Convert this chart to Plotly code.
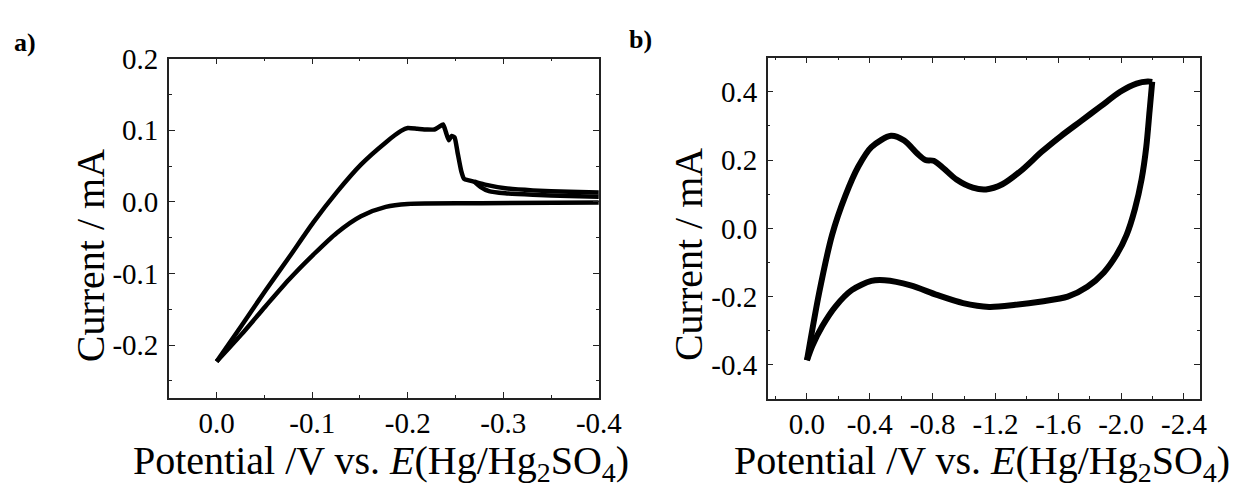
import plotly.graph_objects as go

# ---------------- Panel a data (potential V, current mA) ----------------
pot_a_fwd = [0.0, -0.026, -0.051, -0.076, -0.101, -0.126, -0.151, -0.177, -0.193, -0.200,
             -0.210, -0.220, -0.228, -0.233, -0.237, -0.240, -0.243, -0.246, -0.249,
             -0.252, -0.256, -0.259, -0.264, -0.270]
cur_a_fwd = [-0.223, -0.173, -0.124, -0.077, -0.029, 0.014, 0.052, 0.083, 0.099, 0.103,
             0.102, 0.101, 0.101, 0.105, 0.108, 0.097, 0.086, 0.092, 0.090,
             0.070, 0.043, 0.032, 0.030, 0.028]
pot_a_tail1 = [-0.270, -0.281, -0.302, -0.331, -0.369, -0.400]
cur_a_tail1 = [0.028, 0.024, 0.019, 0.016, 0.014, 0.013]
pot_a_tail2 = [-0.270, -0.276, -0.285, -0.302, -0.331, -0.369, -0.400]
cur_a_tail2 = [0.028, 0.021, 0.015, 0.012, 0.010, 0.008, 0.007]
pot_a_rev = [-0.400, -0.277, -0.200, -0.177, -0.151, -0.126, -0.101, -0.076, -0.051, -0.026, 0.0]
cur_a_rev = [-0.001, -0.002, -0.003, -0.007, -0.020, -0.043, -0.074, -0.108, -0.146, -0.185, -0.223]

# ---------------- Panel b data (anodic sweep 0 -> -2.2 V, then return) ----------------
pot_b_fwd = [0.0, -0.077, -0.160, -0.244, -0.327, -0.410, -0.535, -0.619, -0.702, -0.754,
             -0.806, -0.869, -0.952, -1.056, -1.140, -1.244, -1.369, -1.494, -1.619, -1.744,
             -1.869, -1.994, -2.098, -2.170, -2.198]
cur_b_fwd = [-0.386, -0.190, -0.019, 0.095, 0.181, 0.238, 0.271, 0.257, 0.219, 0.200,
             0.198, 0.176, 0.143, 0.119, 0.114, 0.129, 0.171, 0.224, 0.271, 0.314,
             0.357, 0.400, 0.424, 0.430, 0.429]
pot_b_rev = [-2.198, -2.181, -2.160, -2.130, -2.088, -2.035, -1.973, -1.890, -1.785, -1.660,
             -1.494, -1.327, -1.160, -0.994, -0.827, -0.660, -0.494, -0.410, -0.285, -0.181,
             -0.098, -0.035, 0.0]
cur_b_rev = [0.429, 0.343, 0.238, 0.143, 0.057, -0.019, -0.076, -0.129, -0.171, -0.200,
             -0.214, -0.224, -0.230, -0.219, -0.195, -0.167, -0.152, -0.154, -0.181, -0.229,
             -0.286, -0.343, -0.386]

# ---------------- Tick labels ----------------
xa_ticks = [0.0, -0.1, -0.2, -0.3, -0.4]
xa_text = ["0.0", "-0.1", "-0.2", "-0.3", "-0.4"]
ya_ticks = [0.2, 0.1, 0.0, -0.1, -0.2]
ya_text = ["0.2", "0.1", "0.0", "-0.1", "-0.2"]
xb_ticks = [0.0, -0.4, -0.8, -1.2, -1.6, -2.0, -2.4]
xb_text = ["0.0", "-0.4", "-0.8", "-1.2", "-1.6", "-2.0", "-2.4"]
yb_ticks = [0.4, 0.2, 0.0, -0.2, -0.4]
yb_text = ["0.4", "0.2", "0.0", "-0.2", "-0.4"]

FONT = "Liberation Serif"
W, H = 1258, 491

fig = go.Figure()
line_a = dict(color="black", width=4.5)
for xs, ys, sm in [(pot_a_fwd + pot_a_tail1[1:], cur_a_fwd + cur_a_tail1[1:], 0.5),
                   (pot_a_tail2, cur_a_tail2, 0.5),
                   (pot_a_rev, cur_a_rev, 0.8)]:
    fig.add_trace(go.Scatter(x=xs, y=ys, mode="lines",
                             line=dict(line_a, shape="spline", smoothing=sm),
                             xaxis="x", yaxis="y", showlegend=False, hoverinfo="skip"))
line_b = dict(color="black", width=6)
for xs, ys in [(pot_b_fwd, cur_b_fwd), (pot_b_rev, cur_b_rev)]:
    fig.add_trace(go.Scatter(x=xs, y=ys, mode="lines",
                             line=dict(line_b, shape="spline", smoothing=0.8),
                             xaxis="x2", yaxis="y2", showlegend=False, hoverinfo="skip"))

def px_x(p):
    return p / W

def px_y(p):
    return 1 - p / H

axis_common = dict(showline=True, linecolor="#222222", linewidth=1.5, mirror="allticks",
                   ticks="inside", ticklen=6, tickwidth=1.2, tickcolor="#222222",
                   showgrid=False, zeroline=False,
                   tickfont=dict(family=FONT, size=29, color="black"))

fig.update_layout(
    width=W, height=H, margin=dict(l=0, r=0, t=0, b=0),
    paper_bgcolor="white", plot_bgcolor="white",
    font=dict(family=FONT, color="black"),
    xaxis=dict(axis_common, domain=[px_x(172), px_x(610)], range=[0.05, -0.4],
               tickvals=xa_ticks, ticktext=xa_text, anchor="y", ticklabelstandoff=-2,
               minor=dict(ticks="inside", ticklen=3, tickcolor="#222222",
                          tickvals=[-0.05, -0.15, -0.25, -0.35])),
    yaxis=dict(axis_common, domain=[px_y(395), px_y(44)], range=[-0.274, 0.2],
               tickvals=ya_ticks, ticktext=ya_text, anchor="x", ticklabelstandoff=3,
               minor=dict(ticks="inside", ticklen=3, tickcolor="#222222",
                          tickvals=[0.15, 0.05, -0.05, -0.15, -0.25])),
    xaxis2=dict(axis_common, domain=[px_x(782), px_x(1222)], range=[0.25, -2.5],
                tickvals=xb_ticks, ticktext=xb_text, anchor="y2", ticklabelstandoff=-2,
                minor=dict(ticks="inside", ticklen=3, tickcolor="#222222",
                           tickvals=[0.2, -0.2, -0.6, -1.0, -1.4, -1.8, -2.2])),
    yaxis2=dict(axis_common, domain=[px_y(396), px_y(43)], range=[-0.5, 0.5],
                tickvals=yb_ticks, ticktext=yb_text, anchor="x2", ticklabelstandoff=3,
                minor=dict(ticks="inside", ticklen=3, tickcolor="#222222",
                           tickvals=[0.3, 0.1, -0.1, -0.3])),
)

xtitle = "Potential /V vs. <i>E</i>(Hg/Hg<sub>2</sub>SO<sub>4</sub>)"
ann_font = dict(family=FONT, size=40, color="black")
fig.add_annotation(x=px_x(388), y=px_y(462), xref="paper", yref="paper", text=xtitle,
                   showarrow=False, font=ann_font, xanchor="center", yanchor="middle")
fig.add_annotation(x=px_x(1000), y=px_y(462), xref="paper", yref="paper", text=xtitle,
                   showarrow=False, font=ann_font, xanchor="center", yanchor="middle")
fig.add_annotation(x=px_x(93), y=px_y(248), xref="paper", yref="paper", text="Current / mA",
                   textangle=-90, showarrow=False, font=ann_font, xanchor="center", yanchor="middle")
fig.add_annotation(x=px_x(702), y=px_y(247), xref="paper", yref="paper", text="Current / mA",
                   textangle=-90, showarrow=False, font=ann_font, xanchor="center", yanchor="middle")
lab_font = dict(family=FONT, size=26, color="black")
fig.add_annotation(x=px_x(25), y=px_y(27), xref="paper", yref="paper", text="<b>a)</b>",
                   showarrow=False, font=lab_font, xanchor="center", yanchor="middle")
fig.add_annotation(x=px_x(652), y=px_y(24), xref="paper", yref="paper", text="<b>b)</b>",
                   showarrow=False, font=lab_font, xanchor="center", yanchor="middle")

post = ("document.documentElement.style.margin='0';document.body.style.margin='0';"
        "document.body.style.padding='0';document.body.style.overflow='hidden';"
        "var d=document.getElementById('{plot_id}');d.style.position='absolute';"
        "d.style.left='0px';d.style.top='0px';")
fig.write_html("out.html", post_script=post, config={"displayModeBar": False})
